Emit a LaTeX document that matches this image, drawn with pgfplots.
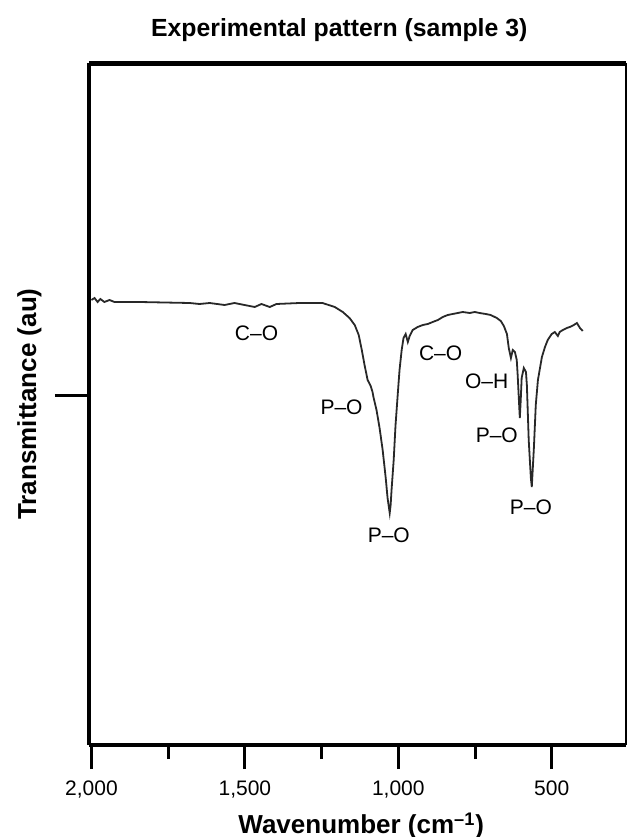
\documentclass[border=0pt]{standalone}
\usepackage{fontspec}
\setmainfont{Liberation Sans}
\usepackage{pgfplots}
\pgfplotsset{compat=1.18}

\definecolor{TraceGray}{RGB}{40,40,40}

\begin{document}
\begin{tikzpicture}
\begin{axis}[
    name=ax,
    scale only axis,
    width=268.5pt, height=341pt,
    x dir=reverse,
    xmin=258, xmax=2008,
    ymin=0, ymax=682,
    axis lines=left,
    axis line style={-, line width=2pt},
    xtick={500,1000,1500,2000},
    minor xtick={750,1250,1750},
    ytick={350},
    yticklabels={},
    tick align=outside,
    major tick length=12pt,
    minor tick length=7pt,
    xtick style={line width=1.5pt, black},
    ytick style={line width=1.5pt, black, /pgfplots/major tick length=17pt},
    minor tick style={line width=1.2pt, black},
    /pgf/number format/assume math mode=true,
    /pgf/number format/.cd, 1000 sep={,},
    /pgfplots/.cd,
    xticklabel style={font=\fontsize{10.5}{12}\selectfont, yshift=-2.5pt},
    title={Experimental pattern (sample 3)},
    title style={font=\bfseries\fontsize{12.4}{14}\selectfont, at={(axis description cs:0.466,1)}, anchor=base, yshift=7.5pt},
    xlabel={Wavenumber (cm\textsuperscript{–1})},
    xlabel style={font=\bfseries\fontsize{13}{15}\selectfont, at={(axis description cs:0.507,-0.1305)}, anchor=base},
    ylabel={Transmittance (au)},
    ylabel style={font=\bfseries\fontsize{13}{15}\selectfont, at={(axis description cs:-0.111,0.5)}, anchor=center},
    clip=false,
]
\addplot[TraceGray, line width=0.9pt] coordinates {
(2000,445) (1990,447) (1980,443) (1971,446) (1958,443) (1941,445) (1925,443)
(1843,443) (1680,442) (1648,441) (1615,442) (1566,440) (1534,442) (1501,440)
(1468,438) (1446,441) (1419,438) (1397,441) (1322,442) (1247,442) (1207,438)
(1181,433) (1159,427) (1142,420) (1129,410) (1119,395) (1110,380) (1100,365)
(1090,359) (1084,353) (1081,348) (1071,335) (1061,317) (1051,295) (1041,267)
(1035,247) (1028,232) (1025,240) (1022,255) (1015,285) (1009,320) (1002,350)
(996,375) (989,395) (983,407) (976,411) (969,403) (963,409) (953,415)
(937,418) (920,420) (904,421) (888,423) (871,425) (855,428) (839,430)
(823,431) (806,432) (790,433) (767,432) (751,433) (735,432) (715,431)
(699,430) (679,427) (666,424) (656,419) (646,411) (640,397) (633,387)
(627,395) (620,393) (614,385) (611,370) (607,345) (604,327) (601,345)
(598,367) (591,377) (584,373) (581,360) (575,305) (568,267) (565,258)
(562,275) (558,298) (552,340) (545,365) (532,388) (522,398) (513,405)
(500,411) (490,413) (480,409) (474,413) (464,415) (451,417) (441,418)
(428,420) (418,422) (408,417) (399,414)
};
\draw[line width=2.5pt] (rel axis cs:0,1) -- (rel axis cs:1,1);
\draw[line width=1pt] (rel axis cs:1,0) -- (rel axis cs:1,1);
\node[font=\fontsize{10.5}{12}\selectfont] at (axis cs:1462,412) {C–O};
\node[font=\fontsize{10.5}{12}\selectfont] at (axis cs:1185,338) {P–O};
\node[font=\fontsize{10.5}{12}\selectfont] at (axis cs:1031,210) {P–O};
\node[font=\fontsize{10.5}{12}\selectfont] at (axis cs:862,392) {C–O};
\node[font=\fontsize{10.5}{12}\selectfont] at (axis cs:712,364) {O–H};
\node[font=\fontsize{10.5}{12}\selectfont] at (axis cs:679,310) {P–O};
\node[font=\fontsize{10.5}{12}\selectfont] at (axis cs:568,238) {P–O};
\end{axis}
\pgfresetboundingbox
\path ([shift={(-44.5pt,-46pt)}]ax.south west) rectangle ([shift={(1pt,31.5pt)}]ax.north east);
\end{tikzpicture}
\end{document}
